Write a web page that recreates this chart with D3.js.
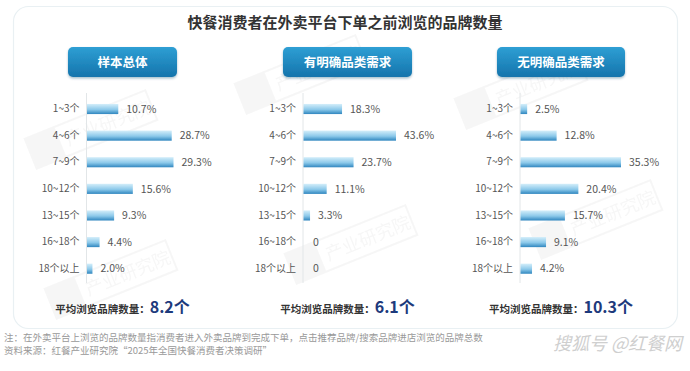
<!DOCTYPE html>
<html>
<head>
<meta charset="utf-8">
<script src="https://cdn.jsdelivr.net/npm/d3@7"></script>
<style>
  body { margin: 0; background: #fff; }
  svg { display: block; font-family: "Noto Sans CJK SC", "Noto Sans", sans-serif; }
</style>
</head>
<body>
<svg id="chart" width="690" height="371"></svg>
<script>
var title = "快餐消费者在外卖平台下单之前浏览的品牌数量";
var categories = ["1~3个", "4~6个", "7~9个", "10~12个", "13~15个", "16~18个", "18个以上"];
var groups = ["样本总体", "有明确品类需求", "无明确品类需求"];
var totalValues = [10.7, 28.7, 29.3, 15.6, 9.3, 4.4, 2.0];
var definiteValues = [18.3, 43.6, 23.7, 11.1, 3.3, 0, 0];
var indefiniteValues = [2.5, 12.8, 35.3, 20.4, 15.7, 9.1, 4.2];
var averages = ["8.2", "6.1", "10.3"];
var notes = [
  "注：在外卖平台上浏览的品牌数量指消费者进入外卖品牌到完成下单，点击推荐品牌/搜索品牌进店浏览的品牌总数",
  "资料来源：红餐产业研究院“2025年全国快餐消费者决策调研”"
];

var series = [totalValues, definiteValues, indefiniteValues];

// layout per panel
var panels = [
  { axisX: 86.5, barMax: 87, btnX: 68, btnW: 109 },
  { axisX: 303, barMax: 93, btnX: 283, btnW: 129 },
  { axisX: 520, barMax: 101, btnX: 497, btnW: 128 }
];

var svg = d3.select("#chart");
var defs = svg.append("defs");

var bg = defs.append("linearGradient").attr("id", "barGrad")
  .attr("x1", 0).attr("y1", 0).attr("x2", 0).attr("y2", 1);
bg.append("stop").attr("offset", "0%").attr("stop-color", "#d4eefa");
bg.append("stop").attr("offset", "55%").attr("stop-color", "#8cc9ea");
bg.append("stop").attr("offset", "100%").attr("stop-color", "#2f86bf");

var btn = defs.append("linearGradient").attr("id", "btnGrad")
  .attr("x1", 0).attr("y1", 0).attr("x2", 0).attr("y2", 1);
btn.append("stop").attr("offset", "0%").attr("stop-color", "#2e9fd4");
btn.append("stop").attr("offset", "100%").attr("stop-color", "#1574ac");

var shadow = defs.append("filter").attr("id", "btnShadow")
  .attr("x", "-10%").attr("y", "-20%").attr("width", "120%").attr("height", "150%");
shadow.append("feDropShadow").attr("dx", 0).attr("dy", 1.5).attr("stdDeviation", 1.2)
  .attr("flood-color", "#0b4a70").attr("flood-opacity", 0.35);

// card
svg.append("rect")
  .attr("x", 13.5).attr("y", 6.5).attr("width", 664).attr("height", 322)
  .attr("rx", 15)
  .attr("fill", "#fff").attr("stroke", "#e9f0f3").attr("stroke-width", 1.2);

// faint watermark stamps
var stamps = [[40, 150], [250, 95], [300, 265], [470, 110], [545, 240], [60, 300]];
stamps.forEach(function (p) {
  var g = svg.append("g")
    .attr("transform", "translate(" + p[0] + "," + p[1] + ") rotate(-22)")
    .attr("opacity", 0.04);
  g.append("rect").attr("x", -10).attr("y", -16).attr("width", 130).attr("height", 32)
    .attr("fill", "none").attr("stroke", "#333").attr("stroke-width", 2);
  g.append("rect").attr("x", -10).attr("y", -16).attr("width", 32).attr("height", 32)
    .attr("fill", "#333");
  g.append("text").attr("x", 28).attr("y", 7).attr("font-size", 18).attr("fill", "#333")
    .text("产业研究院");
});

svg.append("text")
  .attr("x", 345).attr("y", 28)
  .attr("text-anchor", "middle")
  .attr("font-size", 15).attr("font-weight", "bold").attr("fill", "#333")
  .text(title);

var y = d3.scaleBand()
  .domain(categories)
  .range([95.7, 282])
  .paddingInner(0.62)
  .paddingOuter(0.31);

panels.forEach(function (p, k) {
  var data = series[k];
  var x = d3.scaleLinear()
    .domain([0, d3.max(data)])
    .range([p.axisX, p.axisX + p.barMax]);

  var g = svg.append("g");

  // header button
  g.append("rect")
    .attr("x", p.btnX).attr("y", 47).attr("width", p.btnW).attr("height", 30)
    .attr("rx", 5)
    .attr("fill", "url(#btnGrad)")
    .attr("filter", "url(#btnShadow)");
  g.append("text")
    .attr("x", p.btnX + p.btnW / 2).attr("y", 66.5)
    .attr("text-anchor", "middle")
    .attr("font-size", 12.5).attr("font-weight", "bold").attr("fill", "#fff")
    .text(groups[k]);

  // axis line + labels
  var axis = d3.axisLeft(y).tickSize(0).tickPadding(7);
  var ax = g.append("g")
    .attr("transform", "translate(" + p.axisX + ",0)")
    .call(axis);
  ax.select(".domain").remove();
  ax.selectAll("text")
    .attr("font-size", 10).attr("fill", "#555")
    .attr("font-family", "\"Noto Sans CJK SC\", sans-serif");
  g.append("line")
    .attr("x1", p.axisX).attr("x2", p.axisX)
    .attr("y1", 93).attr("y2", 283)
    .attr("stroke", "#e2e6e8").attr("stroke-width", 1);

  g.selectAll(".bar")
    .data(data)
    .enter().append("rect")
    .attr("class", "bar")
    .attr("x", p.axisX + 0.5)
    .attr("y", function (d, i) { return y(categories[i]); })
    .attr("width", function (d) { return Math.max(0, x(d) - p.axisX - 0.5); })
    .attr("height", y.bandwidth())
    .attr("fill", "url(#barGrad)");

  g.selectAll(".val")
    .data(data)
    .enter().append("text")
    .attr("class", "val")
    .attr("x", function (d) { return d === 0 ? p.axisX + 10 : x(d) + 8; })
    .attr("y", function (d, i) { return y(categories[i]) + y.bandwidth() / 2; })
    .attr("dy", "0.35em")
    .attr("font-size", 10.5).attr("fill", "#555")
    .text(function (d) { return d === 0 ? "0" : d.toFixed(1) + "%"; });

  // average line
  var cx = p.btnX + p.btnW / 2;
  var t = g.append("text")
    .attr("x", cx).attr("y", 313)
    .attr("text-anchor", "middle")
    .attr("fill", "#333");
  t.append("tspan").attr("font-size", 10.5).attr("font-weight", "bold")
    .text("平均浏览品牌数量：");
  t.append("tspan").attr("font-size", 16).attr("font-weight", "bold").attr("fill", "#1d3a7c")
    .text(averages[k] + "个");
});

svg.selectAll(".note")
  .data(notes)
  .enter().append("text")
  .attr("class", "note")
  .attr("x", 4).attr("y", function (d, i) { return 341 + i * 13; })
  .attr("font-size", 9.5).attr("fill", "#999")
  .text(function (d) { return d; });

svg.append("text")
  .attr("x", 682).attr("y", 350)
  .attr("text-anchor", "end")
  .attr("font-size", 18).attr("font-style", "italic")
  .attr("fill", "#cfcfcf")
  .text("搜狐号 @红餐网");
</script>
</body>
</html>
